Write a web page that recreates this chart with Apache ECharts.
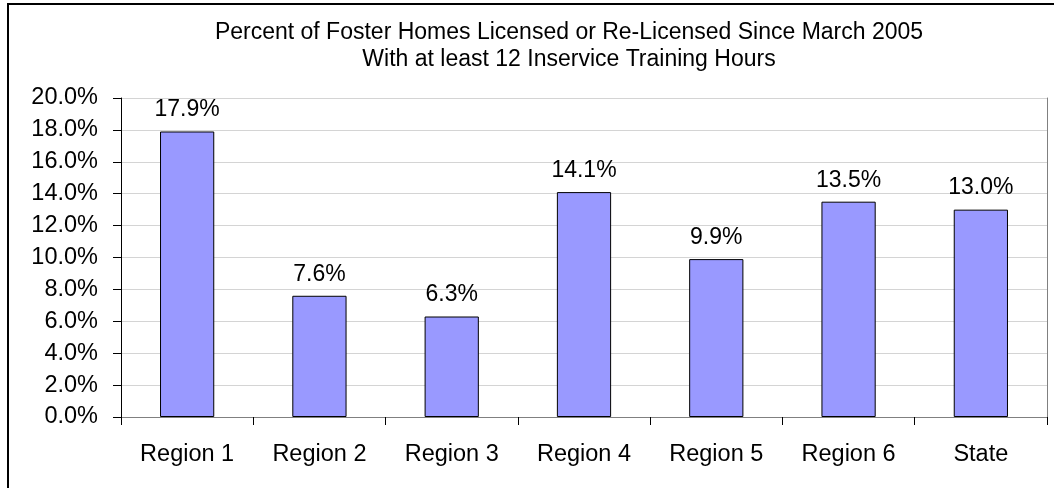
<!DOCTYPE html>
<html>
<head>
<meta charset="utf-8">
<script src="https://cdn.jsdelivr.net/npm/echarts@6/dist/echarts.min.js"></script>
<style>
  html, body { margin: 0; padding: 0; background: #fff; }
  #chart { width: 1054px; height: 488px; }
</style>
</head>
<body>
<div id="chart"></div>
<script>
  var categories = ['Region 1', 'Region 2', 'Region 3', 'Region 4', 'Region 5', 'Region 6', 'State'];
  var percentValues = [17.9, 7.6, 6.3, 14.1, 9.9, 13.5, 13.0];
  var titleLines = [
    'Percent of Foster Homes Licensed or Re-Licensed Since March 2005',
    'With at least 12 Inservice Training Hours'
  ];

  var font = 'Liberation Sans, Arial, sans-serif';
  var chart = echarts.init(document.getElementById('chart'));

  var option = {
    animation: false,
    backgroundColor: '#fff',
    title: {
      text: titleLines.join('\n'),
      left: 564,
      top: 14,
      textAlign: 'center',
      textStyle: { fontFamily: font, fontSize: 23, fontWeight: 'normal', color: '#000', lineHeight: 27 }
    },
    graphic: [{
      type: 'rect',
      shape: { x: 8, y: 4, width: 1200, height: 700 },
      style: { fill: 'none', stroke: '#000', lineWidth: 2 },
      silent: true
    }],
    grid: { left: 121, right: 7, top: 98, bottom: 71 },
    xAxis: [{
      type: 'category',
      data: categories,
      axisLine: { lineStyle: { color: '#000' } },
      axisTick: { show: true, length: 8, alignWithLabel: false, lineStyle: { color: '#000' } },
      axisLabel: { fontFamily: font, fontSize: 23.5, color: '#000', margin: 26 }
    }, {
      type: 'category',
      position: 'top',
      data: categories,
      axisLine: { show: true, lineStyle: { color: '#808080' } },
      axisTick: { show: false },
      axisLabel: { show: false }
    }],
    yAxis: [{
      type: 'value',
      min: 0,
      max: 20,
      interval: 2,
      axisLine: { show: true, lineStyle: { color: '#000' } },
      axisTick: { show: true, length: 8, lineStyle: { color: '#000' } },
      axisLabel: {
        fontFamily: font, fontSize: 23.5, color: '#000', margin: 23,
        formatter: function (v) { return v.toFixed(1) + '%'; }
      },
      splitLine: { show: true, lineStyle: { color: '#d4d4d4' } }
    }, {
      type: 'value',
      position: 'right',
      min: 0,
      max: 20,
      interval: 2,
      axisLine: { show: true, lineStyle: { color: '#808080' } },
      axisTick: { show: false },
      axisLabel: { show: false },
      splitLine: { show: false }
    }],
    series: [{
      type: 'bar',
      data: percentValues,
      barWidth: '41%',
      itemStyle: { color: '#9999ff', borderColor: '#000', borderWidth: 1 },
      label: {
        show: true,
        position: 'top',
        distance: 10,
        fontFamily: font,
        fontSize: 23,
        color: '#000',
        formatter: function (p) { return p.value.toFixed(1) + '%'; }
      }
    }]
  };

  chart.setOption(option);
</script>
</body>
</html>
